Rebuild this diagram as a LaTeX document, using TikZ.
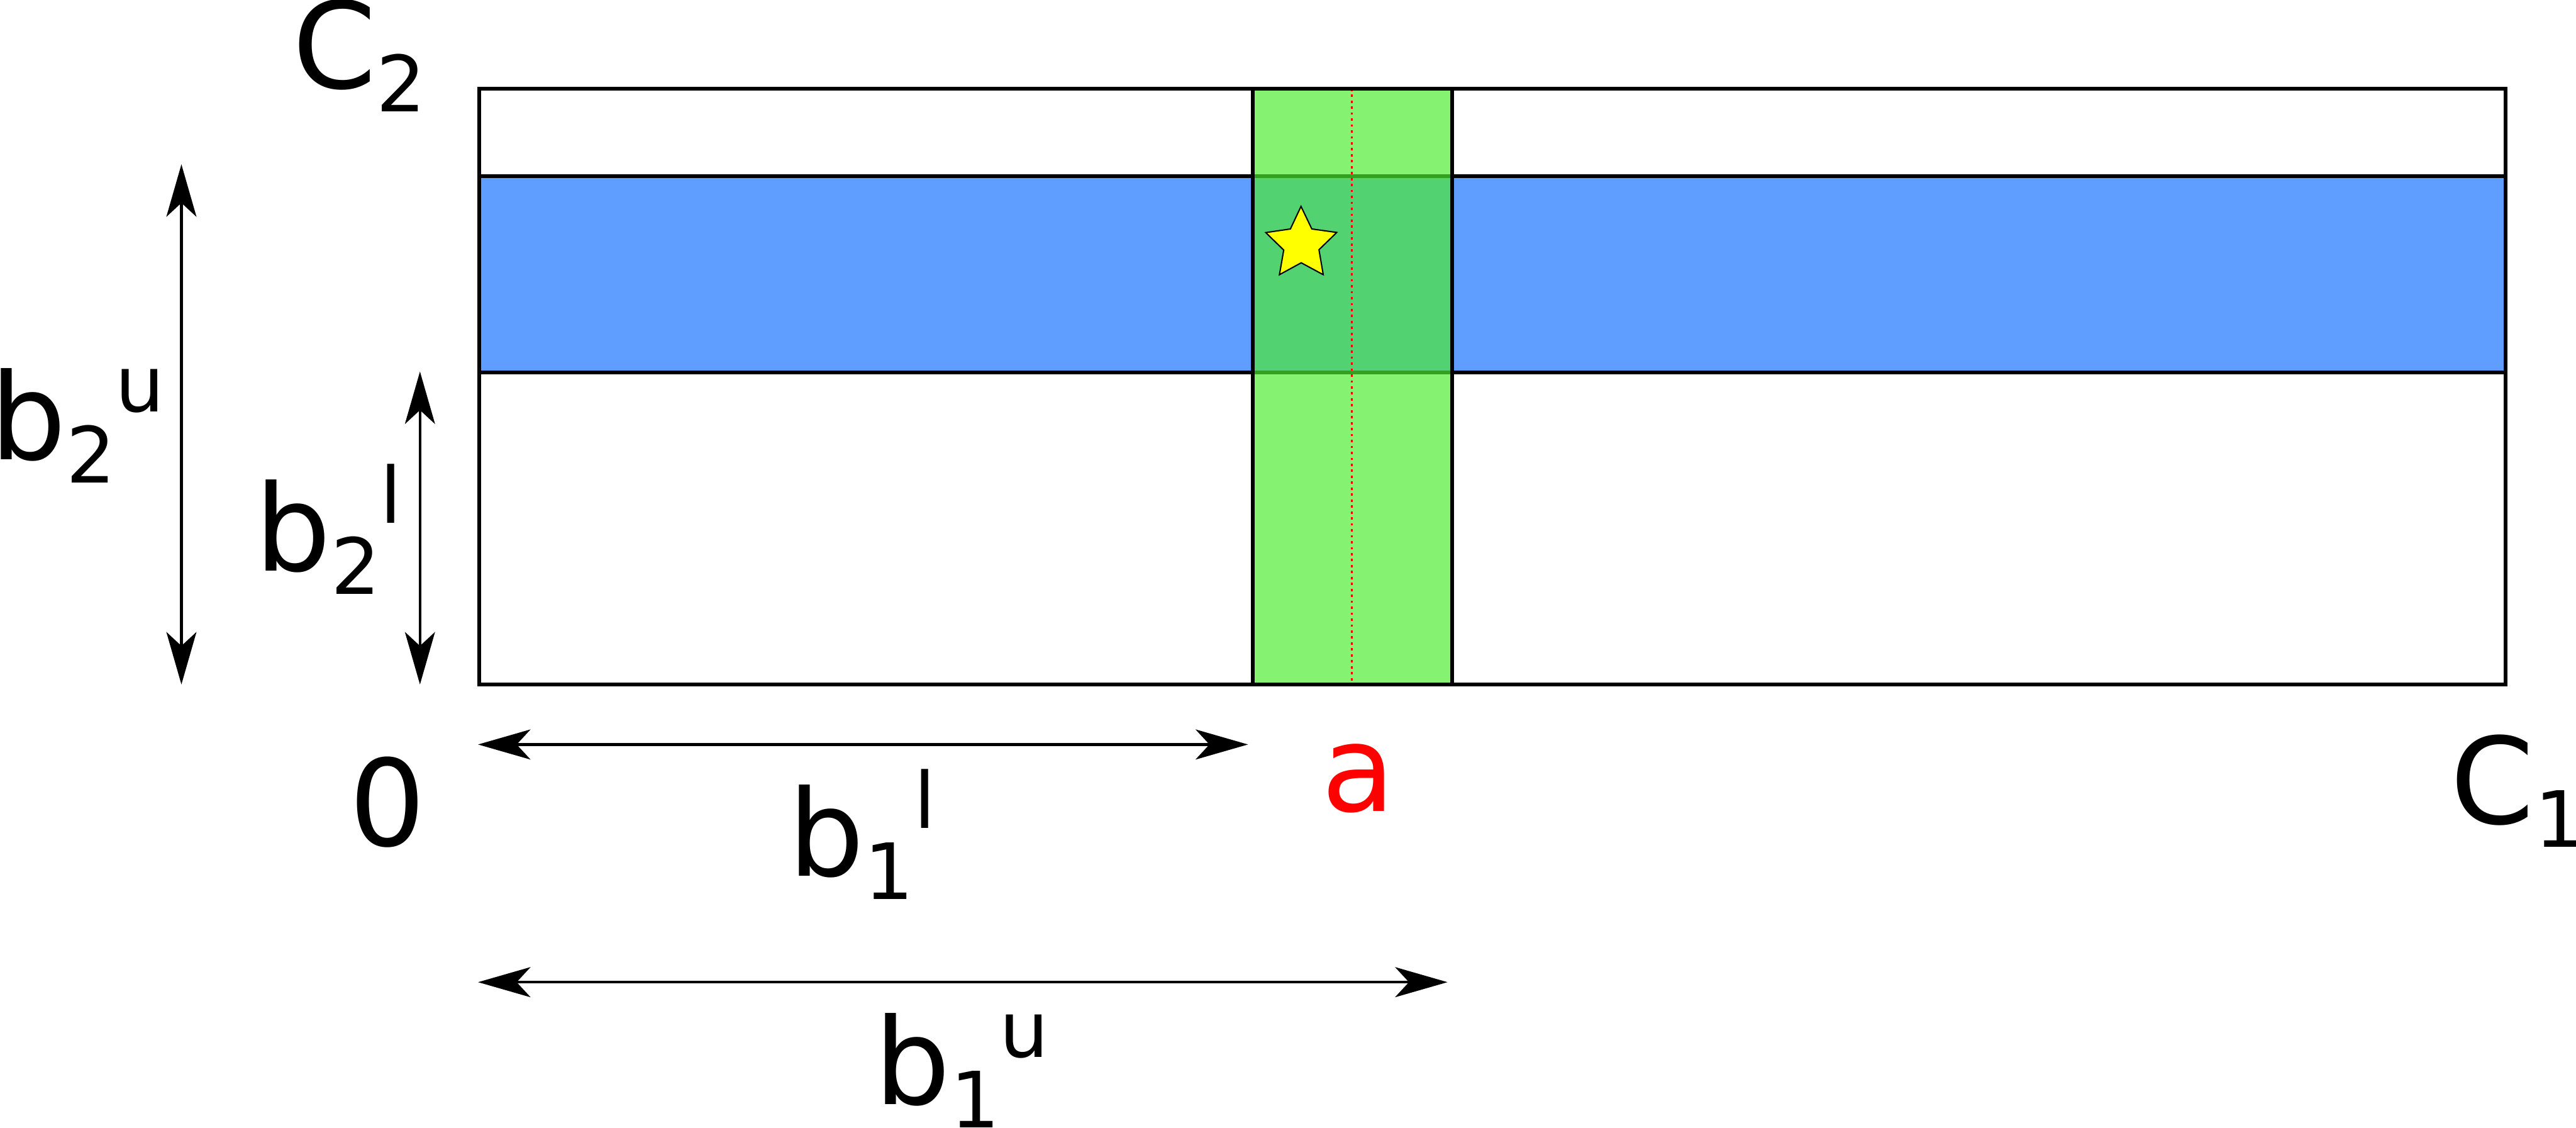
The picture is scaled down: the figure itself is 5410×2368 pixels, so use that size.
\documentclass[tikz,border=0pt]{standalone}
\usepackage{fontspec}
\setmainfont{DejaVu Sans}
\usetikzlibrary{arrows.meta}
\definecolor{bandblue}{RGB}{95,158,255}
\definecolor{bandgreen}{RGB}{78,236,48}
\definecolor{stary}{RGB}{255,255,0}
\newcommand{\subsz}{\fontsize{16.3pt}{18pt}\selectfont}
\newcommand{\lo}[1]{\raisebox{-4.9pt}{\subsz #1}}
\newcommand{\hi}[1]{\raisebox{10pt}{\subsz #1}}
\begin{document}
\begin{tikzpicture}[x=0.1pt,y=-0.1pt,
  frame/.style={line width=0.75pt,line cap=rect},
  dimarrow/.style={line width=0.6pt,
    {Stealth[length=11pt,width=6.3pt,inset=2.9pt]}-{Stealth[length=11pt,width=6.3pt,inset=2.9pt]}},
  lbl/.style={inner sep=0pt,anchor=base west,font=\fontsize{25.2pt}{30pt}\selectfont}]
\useasboundingbox (0,0) rectangle (5410,2368);
% main frame
\coordinate (TL) at (1006,186);
\coordinate (BR) at (5262,1437);
\fill[white] (TL) rectangle (BR);
% blue band
\coordinate (bTL) at (1006,370);
\coordinate (bTR) at (5262,370);
\coordinate (bBL) at (1006,782);
\coordinate (bBR) at (5262,782);
\fill[bandblue] (bTL) rectangle (bBR);
\draw[frame] (bTL) -- (bTR);
\draw[frame] (bBL) -- (bBR);
% green band
\coordinate (gTL) at (2631,186);
\coordinate (gBL) at (2631,1437);
\coordinate (gTR) at (3050,186);
\coordinate (gBR) at (3050,1437);
\fill[bandgreen,fill opacity=0.68] (gTL) rectangle (gBR);
\draw[frame] (gTL) -- (gBL);
\draw[frame] (gTR) -- (gBR);
% red dotted line
\coordinate (rT) at (2839,186);
\coordinate (rB) at (2839,1437);
\draw[red,line width=0.4pt,dash pattern=on 0.5pt off 0.75pt] (rT) -- (rB);
% star
\draw[fill=stary,line width=0.27pt,line join=miter]
  (2732.3,433.3) -- (2755,480.7) -- (2807.3,488) -- (2770,524.3) -- (2779,576.7)
  -- (2732.7,551.7) -- (2687,576.7) -- (2696,525) -- (2658.3,488.3) -- (2710,480.7) -- cycle;
% outer frame on top
\draw[frame] (TL) rectangle (BR);
% dimension arrows
\coordinate (u2a) at (381,345);  \coordinate (u2b) at (381,1437);
\coordinate (l2a) at (882,780);  \coordinate (l2b) at (882,1437);
\coordinate (l1a) at (1004,1563); \coordinate (l1b) at (2621,1563);
\coordinate (u1a) at (1004,2062); \coordinate (u1b) at (3040,2062);
\draw[dimarrow] (u2a) -- (u2b);
\draw[dimarrow] (l2a) -- (l2b);
\draw[dimarrow] (l1a) -- (l1b);
\draw[dimarrow] (u1a) -- (u1b);
% labels
\node[lbl] (c2) at (613,185) {C\lo{2}};
\node[lbl] (c1) at (5145,1730) {C\lo{1}};
\node[lbl] (zero) at (732,1776) {0};
\node[lbl,text=red] (a) at (2774,1703) {a};
\node[lbl] (b1l) at (1654,1839) {b\lo{1}\hi{l}};
\node[lbl] (b1u) at (1834,2319) {b\lo{1}\hi{u}};
\node[lbl] (b2u) at (-23,965) {b\lo{2}\hi{u}};
\node[lbl] (b2l) at (533,1198) {b\lo{2}\hi{l}};
\end{tikzpicture}
\end{document}
